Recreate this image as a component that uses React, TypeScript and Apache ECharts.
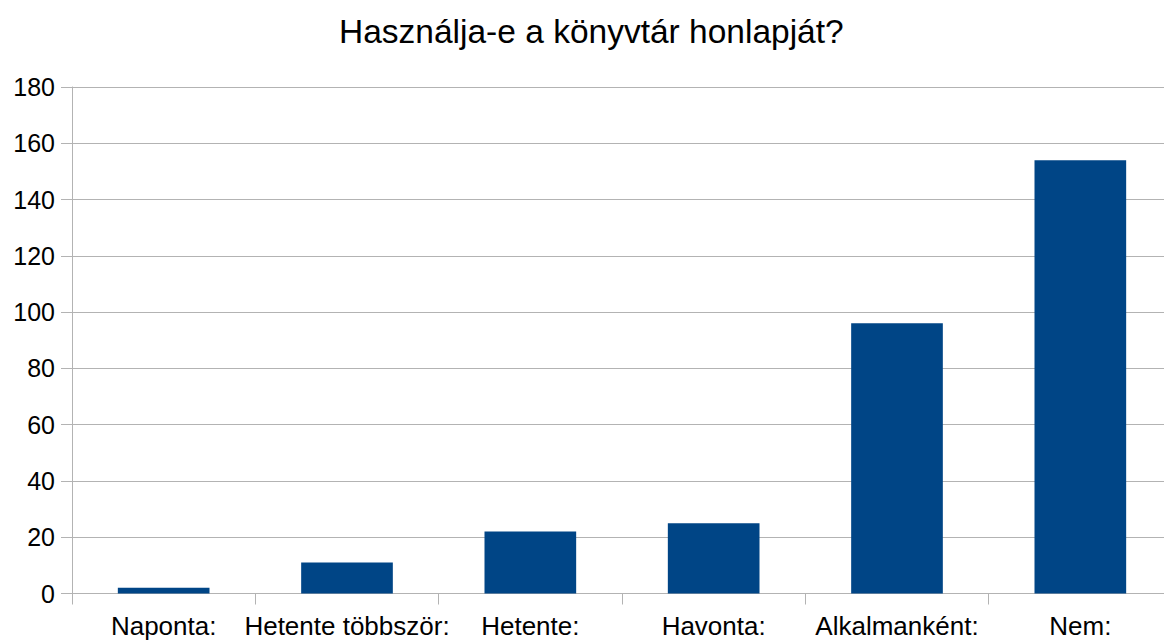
import React, { useEffect, useRef } from "react";
import * as echarts from "echarts";

const titleText = "Használja-e a könyvtár honlapját?";
const categories = ["Naponta:", "Hetente többször:", "Hetente:", "Havonta:", "Alkalmanként:", "Nem:"];
const values = [2, 11, 22, 25, 96, 154];
const yMin = 0;
const yMax = 180;
const yInterval = 20;

export default function App() {
  const ref = useRef<HTMLDivElement>(null);
  useEffect(() => {
    if (!ref.current) return;
    const chart = echarts.init(ref.current, null, { renderer: "svg" });
    const font = "'Liberation Sans', Arial, sans-serif";
    chart.setOption({
      animation: false,
      backgroundColor: "#ffffff",
      title: {
        text: titleText,
        left: 334,
        top: 9,
        textStyle: { fontFamily: font, fontSize: 33.5, fontWeight: "normal", color: "#000000" },
      },
      grid: {
        left: 72,
        width: 1100,
        top: 87,
        height: 506.5,
        containLabel: false,
        outerBoundsMode: "none",
      },
      xAxis: {
        type: "category",
        data: categories,
        axisLine: { show: true, lineStyle: { color: "#b3b3b3", width: 1 } },
        axisTick: { show: true, length: 11, lineStyle: { color: "#b3b3b3" } },
        axisLabel: { fontFamily: font, fontSize: 26, color: "#000000", margin: 19, interval: 0 },
        splitLine: { show: false },
      },
      yAxis: {
        type: "value",
        min: yMin,
        max: yMax,
        interval: yInterval,
        axisLine: { show: true, lineStyle: { color: "#b3b3b3", width: 1 } },
        axisTick: { show: true, length: 11, lineStyle: { color: "#b3b3b3" } },
        axisLabel: { fontFamily: font, fontSize: 25, color: "#000000", margin: 17 },
        splitLine: { show: true, lineStyle: { color: "#b3b3b3", width: 1 } },
      },
      series: [
        {
          type: "bar",
          data: values,
          barWidth: "50%",
          itemStyle: { color: "#004586" },
        },
      ],
    });
    return () => chart.dispose();
  }, []);
  return (
    <div
      ref={ref}
      style={{ position: "absolute", left: 0, top: 0, width: 1164, height: 640 }}
    />
  );
}
